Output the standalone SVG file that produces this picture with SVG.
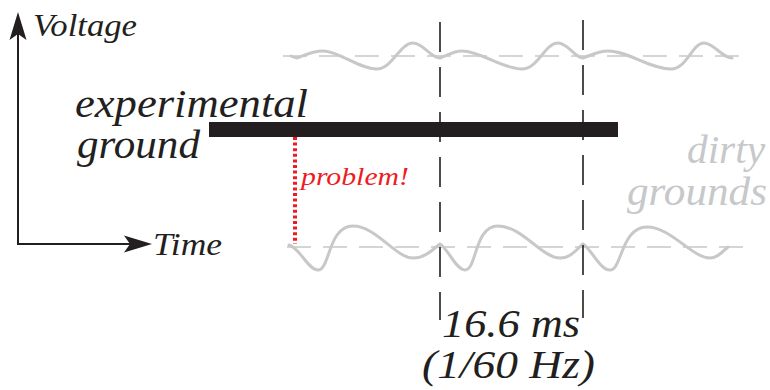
<svg xmlns="http://www.w3.org/2000/svg" width="770" height="390" viewBox="0 0 770 390">
<style>
text{font-family:'Liberation Serif','Times New Roman',serif;font-style:italic;fill:#231f20}
.g{fill:#c6c8ca}
.r{fill:#ed1c24}
.wave{fill:none;stroke:#c8c8c8;stroke-width:3;stroke-linecap:round}
.base{fill:none;stroke:#c8c8c8;stroke-width:1.5;stroke-dasharray:24 12}
.vdash{fill:none;stroke:#231f20;stroke-width:1.6;stroke-dasharray:30 15}
</style>
<defs>
<marker id="ah" markerUnits="userSpaceOnUse" viewBox="-8 -10 32 20" markerWidth="32" markerHeight="20" refX="0" refY="0" orient="auto-start-reverse">
<path d="M22,0 L-6,-8.5 L0,0 L-6,8.5 Z" fill="#231f20"/>
</marker>
</defs>
<rect width="770" height="390" fill="#fff"/>
<g id="axes">
<path d="M18,34 L18,244 L130,244" fill="none" stroke="#231f20" stroke-width="2" marker-start="url(#ah)" marker-end="url(#ah)"/>
<text x="33" y="36" font-size="32" textLength="104" lengthAdjust="spacingAndGlyphs">Voltage</text>
<text x="153" y="255" font-size="32" textLength="69" lengthAdjust="spacingAndGlyphs">Time</text>
</g>
<g id="dirty-ground-top">
<path class="base" d="M283,56 L750,56"/>
<path class="wave" d="M291,56 C293,57 295,58 297,58 C305,55 313,51 323,51 C339,51 359,69 377,69 C392,69 400,43 413,43 C423,43 431,58 440,58 C448,55 454,51 462,51 C480,51 503,69 522,69 C538,69 545,43 558,43 C568,43 575,58 583,58 C591,55 599,51 608,51 C628,51 650,69 671,69 C687,69 692,43 704,43 C714,43 722,58 732,58"/>
</g>
<g id="dirty-ground-bottom">
<path class="base" d="M287,247 L755,247"/>
<path class="wave" d="M289,245 C300,248 308,270 318,270 C330,270 328,226 353,226 C376,226 396,258 413,258 C426,258 433,249 440,244 C449,250 456,270 465,270 C477,270 474,226 498,226 C522,226 542,258 560,258 C571,258 577,249 583,244 C592,250 600,270 610,270 C622,270 621,227 647,227 C671,227 692,258 710,258 C718,258 723,251 728,247"/>
</g>
<g id="experimental-ground">
<rect x="209" y="122" width="409" height="15" fill="#231f20"/>
<text x="75" y="117" font-size="41" textLength="233" lengthAdjust="spacingAndGlyphs">experimental</text>
<text x="77" y="158" font-size="41" textLength="123" lengthAdjust="spacingAndGlyphs">ground</text>
</g>
<g id="dirty-grounds-label">
<text class="g" x="687" y="163" font-size="41" textLength="78" lengthAdjust="spacingAndGlyphs">dirty</text>
<text class="g" x="627" y="205" font-size="41" textLength="140" lengthAdjust="spacingAndGlyphs">grounds</text>
</g>
<g id="period-label">
<text x="442" y="337" font-size="41" textLength="138" lengthAdjust="spacingAndGlyphs">16.6 ms</text>
<text x="422" y="378" font-size="41" textLength="173" lengthAdjust="spacingAndGlyphs">(1/60 Hz)</text>
</g>
<g id="connectors">
<path class="vdash" d="M440,22 L440,320"/>
<path class="vdash" d="M583,20 L583,318"/>
<path d="M295,137 L295,244" fill="none" stroke="#ed1c24" stroke-width="4" stroke-dasharray="3 2.6"/>
</g>
<g id="problem-label">
<text class="r" x="301" y="185" font-size="26" textLength="108" lengthAdjust="spacingAndGlyphs">problem!</text>
</g>
</svg>
